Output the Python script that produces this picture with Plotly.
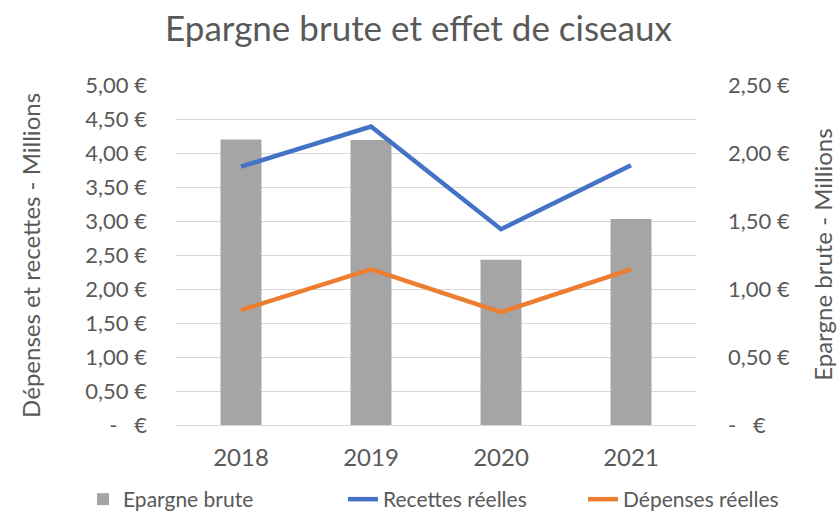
import plotly.graph_objects as go

years = ["2018", "2019", "2020", "2021"]
epargne_brute = [2.10, 2.095, 1.215, 1.515]
recettes_reelles = [3.80, 4.39, 2.88, 3.82]
depenses_reelles = [1.69, 2.29, 1.66, 2.29]

left_tickvals = [0, 0.5, 1, 1.5, 2, 2.5, 3, 3.5, 4, 4.5, 5]
left_ticktext = ["-\u00a0\u00a0\u00a0€", "0,50 €", "1,00 €", "1,50 €", "2,00 €", "2,50 €",
                 "3,00 €", "3,50 €", "4,00 €", "4,50 €", "5,00 €"]
right_tickvals = [0, 0.5, 1, 1.5, 2, 2.5]
right_ticktext = ["-\u00a0\u00a0\u00a0€", "0,50 €", "1,00 €", "1,50 €", "2,00 €", "2,50 €"]

FONT = "Lato"
GREY = "#595959"
TICK = 22

fig = go.Figure()
fig.add_trace(go.Bar(x=years, y=epargne_brute, name="Epargne brute",
                     marker=dict(color="#a5a5a5", line=dict(width=0)), yaxis="y",
                     legend="legend"))
fig.add_trace(go.Scatter(x=years, y=recettes_reelles, name="Recettes réelles", mode="lines",
                         line=dict(color="#4472c4", width=4.5), yaxis="y2",
                         legend="legend2"))
fig.add_trace(go.Scatter(x=years, y=depenses_reelles, name="Dépenses réelles", mode="lines",
                         line=dict(color="#ed7d31", width=4.5), yaxis="y2",
                         legend="legend3"))

leg_common = dict(orientation="h", xanchor="left", xref="container", yref="container",
                  y=0.0, yanchor="bottom",
                  font=dict(size=21, color=GREY), bgcolor="rgba(0,0,0,0)")

fig.update_layout(
    width=837, height=520,
    margin=dict(l=176, r=141, t=85, b=95, autoexpand=False),
    paper_bgcolor="white", plot_bgcolor="white",
    font=dict(family=FONT, color=GREY, size=TICK),
    title=dict(text="Epargne brute et effet de ciseaux", x=0.5, xanchor="center",
               y=0.944, yanchor="middle", font=dict(size=35, color=GREY, family=FONT)),
    bargap=0.685,
    showlegend=True,
    legend=dict(x=0.0992, **leg_common),
    legend2=dict(x=0.4098, **leg_common),
    legend3=dict(x=0.6965, **leg_common),
    xaxis=dict(type="category", showgrid=False, showline=True, linecolor="#d9d9d9",
               linewidth=1, ticks="", tickfont=dict(size=24, color=GREY),
               ticklabelstandoff=11, automargin=False),
    yaxis=dict(side="right", range=[0, 2.5], tickvals=right_tickvals, ticktext=right_ticktext,
               showgrid=True, gridcolor="#d9d9d9", gridwidth=1,
               minor=dict(dtick=0.25, showgrid=True, gridcolor="#d9d9d9", gridwidth=1),
               zeroline=False, showline=False, ticks="", tickfont=dict(size=TICK, color=GREY),
               ticklabelstandoff=31, automargin=False),
    yaxis2=dict(side="left", overlaying="y", range=[0, 5], tickvals=left_tickvals,
                ticktext=left_ticktext, showgrid=False, zeroline=False, showline=False,
                ticks="", tickfont=dict(size=TICK, color=GREY), ticklabelstandoff=28,
                automargin=False),
    annotations=[
        dict(text="Dépenses et recettes - Millions", xref="paper", yref="paper",
             x=-0.281, y=0.5, xanchor="center", yanchor="middle", textangle=-90,
             showarrow=False, font=dict(size=24, color=GREY)),
        dict(text="Epargne brute - Millions", xref="paper", yref="paper",
             x=1.242, y=0.5, xanchor="center", yanchor="middle", textangle=-90,
             showarrow=False, font=dict(size=24, color=GREY)),
    ],
)

fig.write_html("out.html", config={"displayModeBar": False},
               post_script="document.body.style.margin='0';document.body.style.overflow='hidden';")
